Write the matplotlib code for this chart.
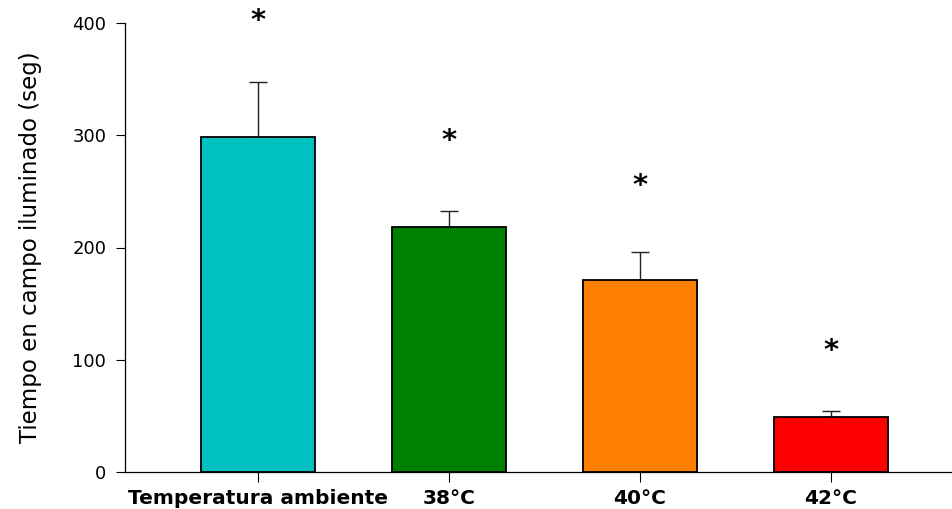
import matplotlib
matplotlib.use("Agg")
import matplotlib.pyplot as plt

categories = ["Temperatura ambiente", "38°C", "40°C", "42°C"]
means = [298, 218.5, 171, 49]
errors = [49, 14, 25, 5]
star_y = [402, 295, 255, 108]
colors = ["#00C0C0", "#008000", "#FF8000", "#FF0000"]
yticks = [0, 100, 200, 300, 400]

plt.rcParams['font.family'] = ['DejaVu Sans']

fig = plt.figure(figsize=(9.53, 5.09), dpi=100)
ax = fig.add_axes([125/953, 1 - 472/509, 828/953, (472 - 23)/509])

x = list(range(len(categories)))
ax.bar(x, means, width=0.6, color=colors, edgecolor="black", linewidth=1.3, zorder=2)
ax.errorbar(x, means, yerr=[[0]*len(errors), errors], fmt="none", ecolor="#222222",
            elinewidth=1.0, capsize=6.5, capthick=1.0, zorder=1)
for xi, sy in zip(x, star_y):
    ax.text(xi, sy, "*", ha="center", va="center", fontsize=21, fontweight="bold",
            clip_on=False)

ax.set_xlim(-0.696, 3.639)
ax.set_ylim(0, 400)
ax.set_yticks(yticks)
ax.set_xticks(x)
ax.set_xticklabels(categories, fontweight="bold", fontsize=14.5)
ax.tick_params(axis="y", labelsize=13, length=6.5, width=0.8, pad=7, direction="out")
ax.tick_params(axis="x", length=7, width=0.8, pad=5, direction="out")
ax.spines["top"].set_visible(False)
ax.spines["right"].set_visible(False)
for s in ("left", "bottom"):
    ax.spines[s].set_linewidth(0.9)
ax.set_ylabel("Tiempo en campo iluminado (seg)", fontsize=16.5, labelpad=22)

fig.savefig("out.png", dpi=100)
